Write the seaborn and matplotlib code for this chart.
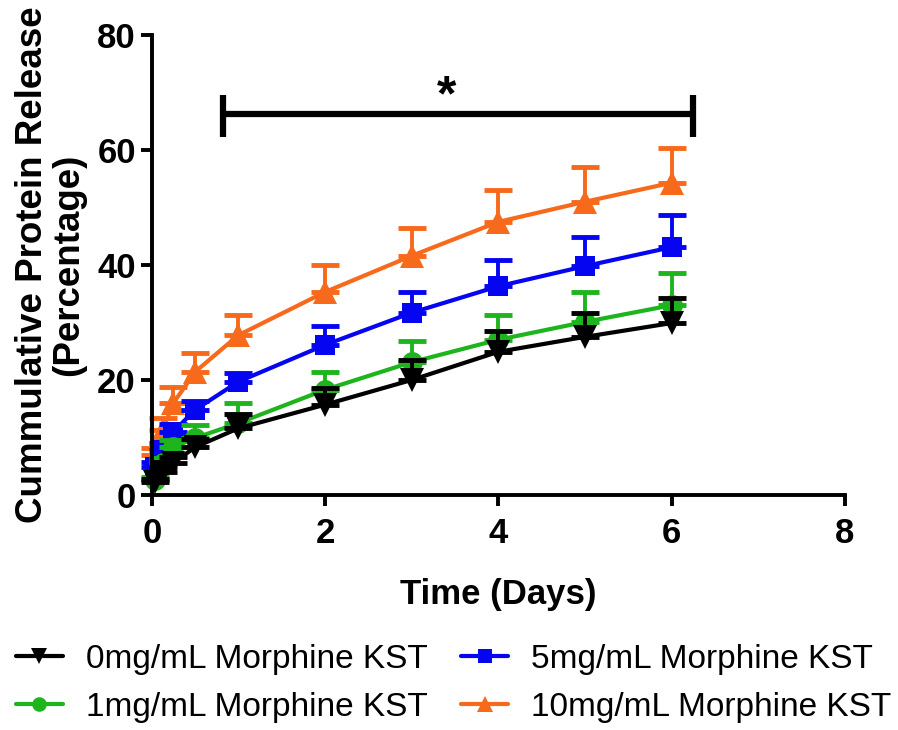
import matplotlib
matplotlib.use("Agg")
import matplotlib.pyplot as plt
import seaborn as sns

# time points (days)
time_days = [0.042, 0.125, 0.25, 0.5, 1, 2, 3, 4, 5, 6]

labels = ['0mg/mL Morphine KST', '1mg/mL Morphine KST',
          '5mg/mL Morphine KST', '10mg/mL Morphine KST']

release_0 = [2.3, 4.0, 5.6, 8.3, 11.6, 15.7, 20.0, 24.9, 27.5, 29.9]
err_0 = [0.5, 0.8, 1.0, 1.5, 2.5, 2.9, 3.5, 3.6, 4.1, 4.3]

release_1 = [2.6, 5.5, 8.3, 9.9, 12.5, 18.3, 23.1, 27.0, 30.1, 33.0]
err_1 = [0.6, 1.0, 1.2, 2.3, 3.5, 3.1, 3.7, 4.3, 5.2, 5.6]

release_5 = [4.9, 7.8, 11.0, 14.8, 19.7, 26.1, 31.7, 36.3, 39.8, 43.1]
err_5 = [0.8, 1.2, 1.4, 1.5, 1.5, 3.3, 3.6, 4.6, 5.1, 5.6]

release_10 = [7.0, 11.3, 16.0, 21.4, 27.8, 35.3, 41.6, 47.5, 51.0, 54.3]
err_10 = [1.2, 2.1, 2.8, 3.3, 3.5, 4.7, 4.8, 5.5, 6.0, 6.0]

# significance bracket (days, percentage)
bracket_x = [0.82, 6.24]
bracket_y = 66.3
bracket_cap = [62.3, 69.6]
star_x = 3.4

sns.set_style("ticks")
plt.rcParams['font.family'] = ['Liberation Sans', 'DejaVu Sans']
plt.rcParams['text.color'] = 'black'
plt.rcParams['axes.labelcolor'] = 'black'
plt.rcParams['xtick.color'] = 'black'
plt.rcParams['ytick.color'] = 'black'
plt.rcParams['axes.edgecolor'] = 'black'

fig = plt.figure(figsize=(8.98, 7.30), dpi=100)
ax = fig.add_axes([0.169, 0.322, 0.772, 0.630])

series = [
    (release_10, err_10, labels[3], '#F7691B', '^', 17),
    (release_5, err_5, labels[2], '#0505F2', 's', 15),
    (release_1, err_1, labels[1], '#1DB41D', 'o', 15),
    (release_0, err_0, labels[0], '#000000', 'v', 17),
]

handles = {}
for vals, errs, lab, col, mk, ms in series:
    ax.errorbar(time_days, vals, yerr=[[0] * len(errs), errs], fmt='none',
                ecolor=col, elinewidth=2.8, capsize=10, capthick=3.5, clip_on=False)
    sns.lineplot(x=time_days, y=vals, ax=ax, color=col, marker=mk,
                 markersize=ms, markeredgewidth=0, linewidth=3,
                 label=lab, clip_on=False)
    handles[lab] = ax.get_lines()[-1]

ax.get_legend().remove()

# significance bracket
ax.plot(bracket_x, [bracket_y, bracket_y], color='black', lw=4.5,
        solid_capstyle='butt')
for bx in bracket_x:
    ax.plot([bx, bx], bracket_cap, color='black', lw=4.5, solid_capstyle='butt')
ax.text(star_x, bracket_y - 1.2, '*', ha='center', va='bottom',
        fontsize=36, fontweight='bold')

ax.set_xlim(0, 8)
ax.set_ylim(0, 80)
ax.set_xticks([0, 2, 4, 6, 8])
ax.set_yticks([0, 20, 40, 60, 80])
sns.despine(ax=ax)
for side in ['left', 'bottom']:
    ax.spines[side].set_linewidth(2.8)
ax.tick_params(width=2.8, length=8, labelsize=25)
ax.tick_params(axis='x', pad=8)
for t in ax.get_xticklabels() + ax.get_yticklabels():
    t.set_fontweight('bold')

ax.set_xlabel('Time (Days)', fontsize=25, fontweight='bold', labelpad=20)
ax.set_ylabel('Cummulative Protein Release\n(Percentage)', fontsize=26.5,
              fontweight='bold', labelpad=8, linespacing=1.05)

fig.legend([handles[l] for l in labels], labels, ncol=2, loc='upper left',
           bbox_to_anchor=(0.018, 0.118), frameon=False, fontsize=24,
           borderpad=0, borderaxespad=0,
           handlelength=1.4, handletextpad=0.7, columnspacing=1.0,
           labelspacing=0.5, markerscale=0.7)

fig.savefig('out.png', dpi=100)
